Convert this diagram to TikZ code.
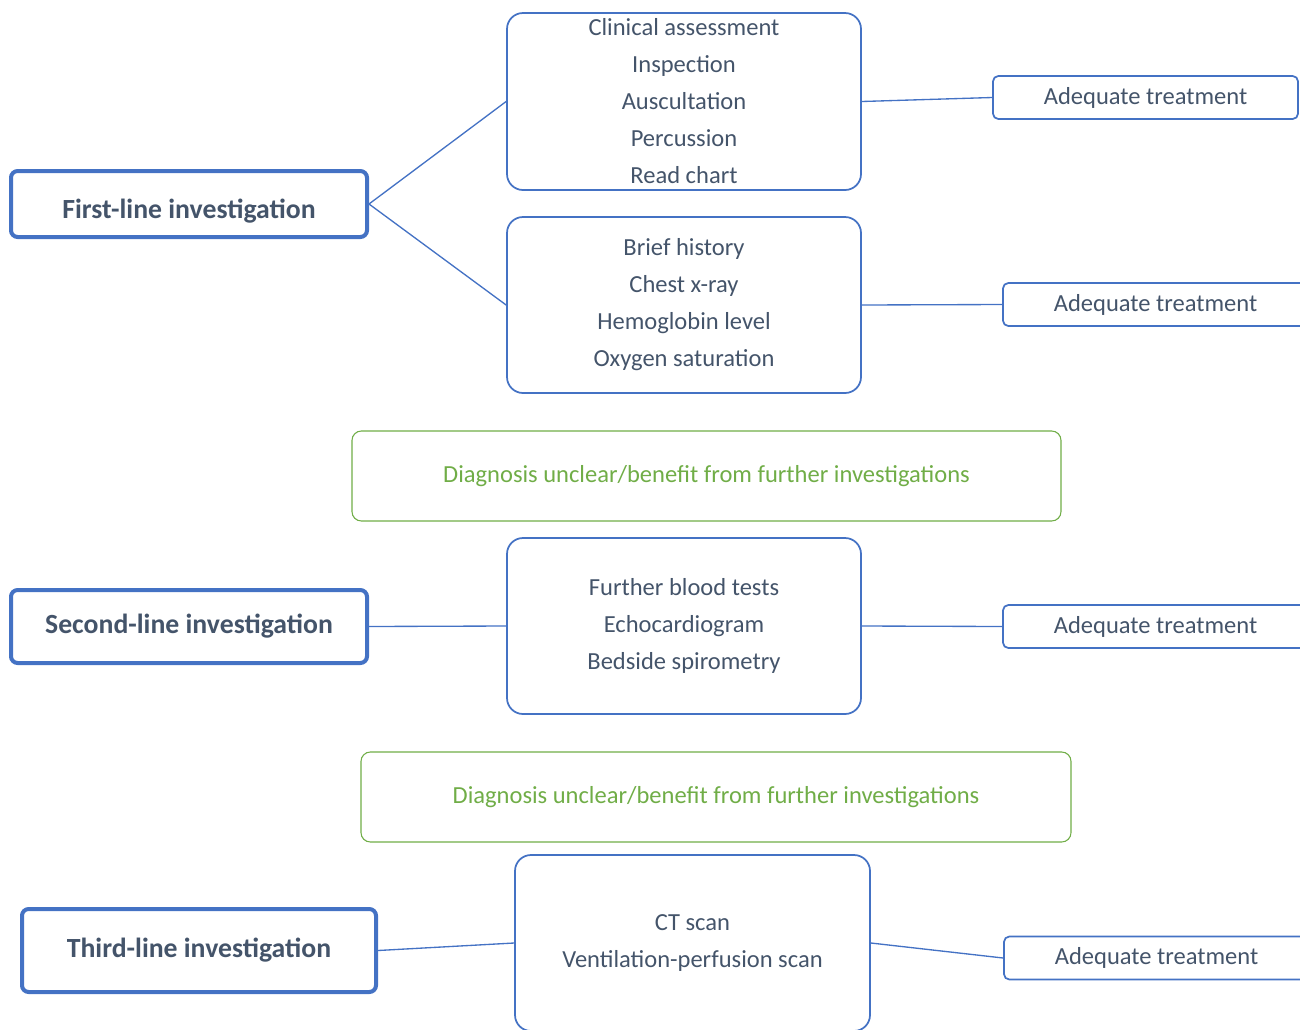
\documentclass[tikz,border=0pt]{standalone}
\usepackage{fontspec}
\setmainfont{Carlito}
\definecolor{bl}{HTML}{4472C4}
\definecolor{tx}{HTML}{44546A}
\definecolor{gr}{HTML}{70AD47}
\begin{document}
\begin{tikzpicture}[x=0.75pt,y=-0.75pt,
  lvl/.style={draw=bl, line width=3pt, rounded corners=5pt, text=tx, font=\fontsize{20.8}{24}\selectfont\bfseries, inner sep=0pt},
  grp/.style={draw=bl, line width=1.3pt, rounded corners=12pt, text=tx, align=center, font=\fontsize{18.4}{27.75}\selectfont, inner sep=0pt, minimum height=132pt},
  res/.style={draw=bl, line width=1.3pt, rounded corners=4pt, text=tx, font=\fontsize{18.4}{21}\selectfont, inner sep=0pt, minimum width=228.75pt, minimum height=32.25pt},
  note/.style={draw=gr, line width=0.8pt, rounded corners=7pt, text=gr, font=\fontsize{18.4}{21}\selectfont, inner sep=0pt, minimum height=67.5pt},
  link/.style={draw=bl, line width=1pt}]
\useasboundingbox (0,0) rectangle (1300,1029);
\clip (0,0) rectangle (1300,1029);
% level boxes
\node[lvl, minimum width=267pt, minimum height=49.5pt, text height=22pt, text depth=0pt] (first) at (189,204) {First-line investigation};
\node[lvl, minimum width=267pt, minimum height=54.75pt] (second) at (189,626.5) {Second-line investigation};
\node[lvl, minimum width=265.5pt, minimum height=62.25pt] (third) at (199,950.5) {Third-line investigation};
% group boxes
\node[grp, minimum width=265.5pt, minimum height=132.75pt] (ga) at (684,101.5) {Clinical assessment\\Inspection\\Auscultation\\Percussion\\Read chart};
\node[grp, minimum width=265.5pt] (gb) at (684,305) {Brief history\\Chest x-ray\\Hemoglobin level\\Oxygen saturation};
\node[grp, minimum width=265.5pt] (gc) at (684,626) {Further blood tests\\Echocardiogram\\Bedside spirometry};
\node[grp, minimum width=266.25pt] (gd) at (692.5,943) {CT scan\\Ventilation-perfusion scan};
% notes
\node[note, minimum width=531.75pt] (n1) at (706.5,476) {Diagnosis unclear/benefit from further investigations};
\node[note, minimum width=532.5pt] (n2) at (716,797) {Diagnosis unclear/benefit from further investigations};
% results
\node[res] (r1) at (1145.5,97.5) {Adequate treatment};
\node[res] (r2) at (1155.5,304.5) {Adequate treatment};
\node[res] (r3) at (1155.5,626.5) {Adequate treatment};
\node[res] (r4) at (1156.5,958) {Adequate treatment};
% connectors
\draw[link] (first.east) -- (ga.west);
\draw[link] (first.east) -- (gb.west);
\draw[link] (second.east) -- (gc.west);
\draw[link] (third.east) -- (gd.west);
\draw[link] (ga.east) -- (r1.west);
\draw[link] (gb.east) -- (r2.west);
\draw[link] (gc.east) -- (r3.west);
\draw[link] (gd.east) -- (r4.west);
\end{tikzpicture}
\end{document}
